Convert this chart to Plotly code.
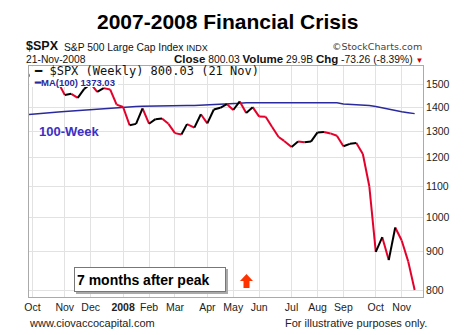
import plotly.graph_objects as go

# ---- data (weekly closes of $SPX) ----
dates = ["2007-09-28", "2007-10-05", "2007-10-12", "2007-10-19", "2007-10-26",
         "2007-11-02", "2007-11-09", "2007-11-16", "2007-11-23", "2007-11-30",
         "2007-12-07", "2007-12-14", "2007-12-21", "2007-12-28", "2008-01-04",
         "2008-01-11", "2008-01-18", "2008-01-25", "2008-02-01", "2008-02-08",
         "2008-02-15", "2008-02-22", "2008-02-29", "2008-03-07", "2008-03-14",
         "2008-03-20", "2008-03-28", "2008-04-04", "2008-04-11", "2008-04-18",
         "2008-04-25", "2008-05-02", "2008-05-09", "2008-05-16", "2008-05-23",
         "2008-05-30", "2008-06-06", "2008-06-13", "2008-06-20", "2008-06-27",
         "2008-07-03", "2008-07-11", "2008-07-18", "2008-07-25", "2008-08-01",
         "2008-08-08", "2008-08-15", "2008-08-22", "2008-08-29", "2008-09-05",
         "2008-09-12", "2008-09-19", "2008-09-26", "2008-10-03", "2008-10-10",
         "2008-10-17", "2008-10-24", "2008-10-31", "2008-11-07", "2008-11-14",
         "2008-11-21"]

spx_close = [1526.75, 1557.59, 1561.80, 1500.63, 1535.28,
             1509.65, 1453.70, 1458.74, 1440.70, 1481.14,
             1504.66, 1467.95, 1484.46, 1478.49, 1411.63,
             1401.02, 1325.19, 1330.61, 1395.42, 1331.29,
             1349.99, 1353.11, 1330.63, 1293.37, 1288.14,
             1329.51, 1315.22, 1370.40, 1332.83, 1390.33,
             1397.84, 1413.90, 1388.28, 1425.35, 1375.93,
             1400.38, 1360.68, 1360.03, 1317.93, 1278.38,
             1262.90, 1239.49, 1260.68, 1257.76, 1260.31,
             1296.32, 1298.20, 1292.20, 1282.83, 1242.31,
             1251.70, 1255.08, 1213.27, 1099.23, 899.22,
             940.55, 876.77, 968.75, 930.99, 873.29,
             800.03]

ma100 = [1368, 1371, 1373, 1375, 1377, 1380, 1382, 1384, 1386, 1388,
         1391, 1393, 1395, 1397, 1399, 1401, 1402, 1403, 1404, 1405,
         1405, 1406, 1406, 1407, 1407, 1408, 1408, 1409, 1409, 1410,
         1411, 1412, 1414, 1417, 1419, 1420, 1420, 1420, 1420, 1420,
         1420, 1420, 1420, 1420, 1420, 1420, 1420, 1420, 1419, 1414,
         1413, 1413, 1412, 1408, 1403, 1397, 1391, 1386, 1381, 1377,
         1373]

tick_dates = ["2007-10-05", "2007-11-09", "2007-12-07", "2008-01-11", "2008-02-08",
              "2008-03-07", "2008-04-11", "2008-05-09", "2008-06-06", "2008-07-11",
              "2008-08-08", "2008-09-05", "2008-10-10", "2008-11-07"]
tick_labels = ["Oct", "Nov", "Dec", "<b>2008</b>", "Feb", "Mar", "Apr", "May",
               "Jun", "Jul", "Aug", "Sep", "Oct", "Nov"]
y_ticks = [800, 900, 1000, 1100, 1200, 1300, 1400, 1500]

# ---- split the price line into up (black) / down (red) segments ----
up_x, up_y, dn_x, dn_y = [], [], [], []
for i in range(1, len(spx_close)):
    seg_x = [dates[i - 1], dates[i], None]
    seg_y = [spx_close[i - 1], spx_close[i], None]
    if spx_close[i] > spx_close[i - 1]:
        up_x += seg_x; up_y += seg_y
    else:
        dn_x += seg_x; dn_y += seg_y

ARIAL = "Arial, Liberation Sans, sans-serif"

fig = go.Figure()
fig.add_trace(go.Scatter(x=dates, y=ma100, mode="lines",
                         line=dict(color="#2a2a9c", width=1.5), hoverinfo="skip"))
fig.add_trace(go.Scatter(x=dn_x, y=dn_y, mode="lines",
                         line=dict(color="#e4002b", width=2), hoverinfo="skip"))
fig.add_trace(go.Scatter(x=up_x, y=up_y, mode="lines",
                         line=dict(color="#000000", width=2), hoverinfo="skip"))

# plot area in pixels
L, R, T, B = 29, 423, 66, 297
W, H = R - L, B - T


def PX(x):
    return (x - L) / W


def PY(y):
    return (B - y) / H


annos = [
    dict(x=PX(227.5), y=PY(21), text="<b>2007-2008 Financial Crisis</b>",
         xanchor="center", yanchor="middle", font=dict(size=21, color="#000", family=ARIAL)),
    dict(x=PX(25), y=PY(46.5), text="<b>$SPX</b>", xanchor="left", yanchor="middle",
         borderpad=0, font=dict(size=12.5, color="#111", family=ARIAL)),
    dict(x=PX(63), y=PY(47.5),
         text='S&amp;P 500 Large Cap Index <span style="font-size:9px">INDX</span>',
         xanchor="left", yanchor="middle", borderpad=0,
         font=dict(size=10.3, color="#111", family=ARIAL)),
    dict(x=PX(423), y=PY(46.5), text="©StockCharts.com", xanchor="right", yanchor="middle",
         borderpad=0, font=dict(size=9.5, color="#444", family="DejaVu Sans")),
    dict(x=PX(25), y=PY(59.5), text="21-Nov-2008", xanchor="left", yanchor="middle",
         borderpad=0, font=dict(size=10.3, color="#111", family=ARIAL)),
    dict(x=PX(424), y=PY(59.5),
         text='<span style="font-size:11.5px"><b>Close</b></span> 800.03 '
              '<span style="font-size:11.5px"><b>Volume</b></span> 29.9B '
              '<span style="font-size:11.5px"><b>Chg</b></span> -73.26 (-8.39%) '
              '<span style="color:#d40000;font-size:8px">▼</span>',
         xanchor="right", yanchor="middle", borderpad=0,
         font=dict(size=10.3, color="#111", family=ARIAL)),
    dict(x=PX(33), y=PY(71), text="━ $SPX (Weekly) 800.03 (21 Nov)",
         xanchor="left", yanchor="middle", borderpad=0,
         font=dict(size=12, color="#111", family="DejaVu Sans Mono")),
    dict(x=PX(33), y=PY(82), text="<b>━MA(100) 1373.03</b>",
         xanchor="left", yanchor="middle", borderpad=0,
         font=dict(size=9.5, color="#2a2a9c", family=ARIAL)),
    dict(x=PX(37), y=PY(131), text="<b>100-Week</b>", xanchor="left", yanchor="middle",
         font=dict(size=13, color="#3d2fc4", family=ARIAL)),
    dict(x=PX(74), y=PY(279.5), text="<b>7 months after peak</b>", xanchor="left",
         yanchor="middle", align="left", width=146, height=19, bgcolor="white",
         bordercolor="#777", borderwidth=1, borderpad=2,
         font=dict(size=14, color="#000", family=ARIAL)),
    dict(x=PX(27), y=PY(323), text="www.ciovaccocapital.com", xanchor="left",
         yanchor="middle", font=dict(size=11, color="#222", family=ARIAL)),
    dict(x=PX(429), y=PY(323), text="For illustrative purposes only.", xanchor="right",
         yanchor="middle", font=dict(size=11, color="#222", family=ARIAL)),
]
for a in annos:
    a.update(xref="paper", yref="paper", showarrow=False)


def path(points):
    return "M " + " L ".join(f"{PX(x):.5f},{PY(y):.5f}" for x, y in points) + " Z"


cover = [(L + 0.5, T + 0.5), (222, T + 0.5), (222, 76), (118, 76), (118, 87), (L + 0.5, 87)]
arrow = [(246.5, 274), (253, 281), (249.5, 281), (249.5, 288), (243.5, 288),
         (243.5, 281), (240, 281)]
shapes = [
    dict(type="path", path=path(cover), xref="paper", yref="paper",
         fillcolor="white", line=dict(width=0), layer="above"),
    dict(type="rect", xref="paper", yref="paper", x0=PX(76), x1=PX(228),
         y0=PY(294), y1=PY(269), fillcolor="#aaa", line=dict(width=0), layer="above"),
    dict(type="path", path=path(arrow), xref="paper", yref="paper",
         fillcolor="#ff3300", line=dict(width=0), layer="above"),
]

fig.update_layout(
    width=474, height=335,
    margin=dict(l=L, r=474 - R, t=T, b=335 - B),
    paper_bgcolor="white", plot_bgcolor="white",
    showlegend=False,
    annotations=annos, shapes=shapes,
    xaxis=dict(type="date", range=["2007-10-01 08:00", "2008-11-30"],
               tickvals=tick_dates, ticktext=tick_labels, ticks="",
               showgrid=True, gridcolor="#e2e2e2", gridwidth=1,
               showline=True, linecolor="#aaa", linewidth=1, mirror=True,
               tickfont=dict(size=10.5, color="#222", family=ARIAL), zeroline=False),
    yaxis=dict(type="log", range=[2.8938, 3.2010], side="right",
               tickvals=y_ticks, ticktext=[str(v) for v in y_ticks],
               ticks="",
               showgrid=True, gridcolor="#e2e2e2", gridwidth=1,
               showline=True, linecolor="#aaa", linewidth=1, mirror=True,
               tickfont=dict(size=10.5, color="#222", family=ARIAL), zeroline=False),
)

fig.write_html("out.html")
